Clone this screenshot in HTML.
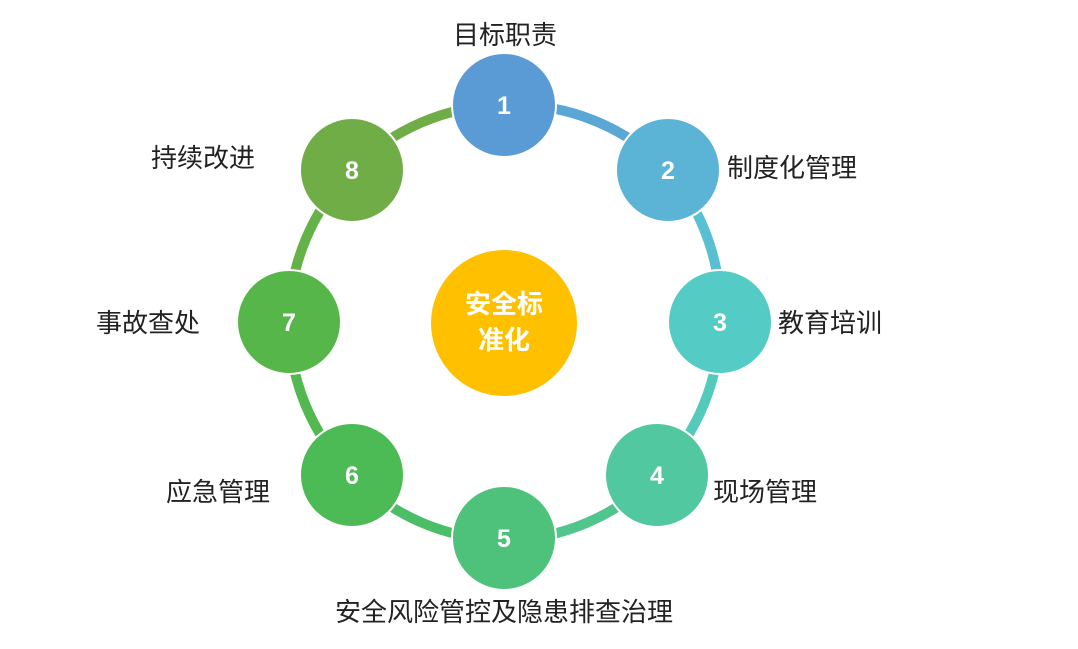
<!DOCTYPE html>
<html><head><meta charset="utf-8"><style>
body{margin:0;background:#fff;}
svg text{font-family:"Liberation Sans","Noto Sans CJK SC",sans-serif;}
</style></head><body>
<svg width="1078" height="644" viewBox="0 0 1078 644" xmlns="http://www.w3.org/2000/svg">
<g fill="none" stroke-width="10">
<path d="M504 105 A217 217 0 0 1 668 170" stroke="#5aa6d5"/>
<path d="M668 170 A217 217 0 0 1 720 322" stroke="#58c0d0"/>
<path d="M720 322 A217 217 0 0 1 657 475" stroke="#53cabc"/>
<path d="M657 475 A217 217 0 0 1 504 540" stroke="#50c58c"/>
<path d="M504 540 A217 217 0 0 1 352 475" stroke="#4dbe68"/>
<path d="M352 475 A217 217 0 0 1 289 322" stroke="#53b850"/>
<path d="M289 322 A217 217 0 0 1 352 170" stroke="#64b248"/>
<path d="M352 170 A217 217 0 0 1 504 105" stroke="#70ad47"/>
</g>
<g stroke="#fff" stroke-width="2">
<circle cx="504" cy="105" r="52" fill="#5b9bd5"/>
<circle cx="668" cy="170" r="52" fill="#5bb4d5"/>
<circle cx="720" cy="322" r="52" fill="#55cbc6"/>
<circle cx="657" cy="475" r="52" fill="#51c8a0"/>
<circle cx="504" cy="538" r="52" fill="#4ec27a"/>
<circle cx="352" cy="475" r="52" fill="#4cba55"/>
<circle cx="289" cy="322" r="52" fill="#57b64a"/>
<circle cx="352" cy="170" r="52" fill="#70ad47"/>
</g>
<circle cx="504" cy="323" r="73" fill="#ffc000"/>
<g fill="#fff" font-size="25" font-weight="bold" text-anchor="middle">
<text x="504" y="114">1</text><text x="668" y="179">2</text><text x="720" y="331">3</text>
<text x="657" y="484">4</text><text x="504" y="547">5</text><text x="352" y="484">6</text>
<text x="289" y="331">7</text><text x="352" y="179">8</text>
<text x="504" y="313" font-size="26">安全标</text><text x="504" y="349" font-size="26">准化</text>
</g>
<g fill="#222" font-size="26">
<text x="505" y="44" text-anchor="middle">目标职责</text>
<text x="727" y="177">制度化管理</text>
<text x="778" y="332">教育培训</text>
<text x="713" y="501">现场管理</text>
<text x="504" y="621" text-anchor="middle">安全风险管控及隐患排查治理</text>
<text x="270" y="501" text-anchor="end">应急管理</text>
<text x="200" y="332" text-anchor="end">事故查处</text>
<text x="255" y="167" text-anchor="end">持续改进</text>
</g>
</svg>
</body></html>
